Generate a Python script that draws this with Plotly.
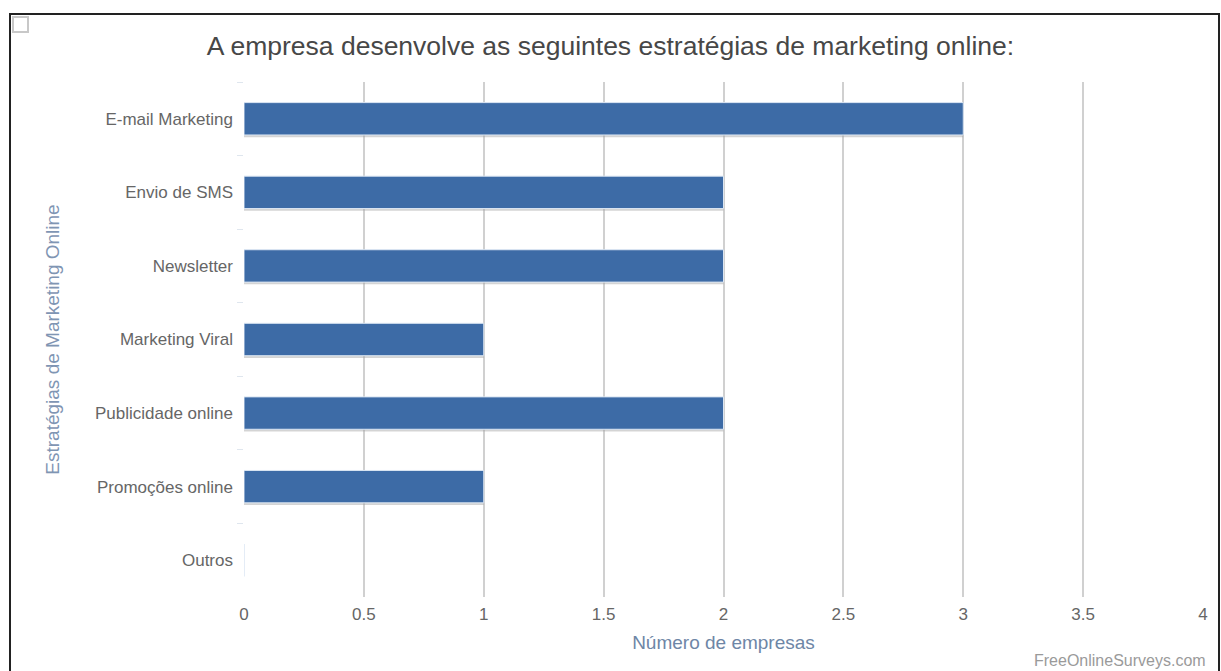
import plotly.graph_objects as go

# Survey answers: number of companies using each online marketing strategy
estrategias = [
    "E-mail Marketing",
    "Envio de SMS",
    "Newsletter",
    "Marketing Viral",
    "Publicidade online",
    "Promoções online",
    "Outros",
]
num_empresas = [3, 2, 2, 1, 2, 1, 0]
x_ticks = [0, 0.5, 1, 1.5, 2, 2.5, 3, 3.5, 4]
x_tick_labels = ["0", "0.5", "1", "1.5", "2", "2.5", "3", "3.5", "4"]

W, H = 1221, 671
ML, MR, MT, MB = 244, 18, 82, 74
pw, ph = W - ML - MR, H - MT - MB


def px_x(p):
    return (p - ML) / pw


def px_y(p):
    return 1 - (p - MT) / ph


fig = go.Figure()

# soft drop shadow behind each bar
fig.add_trace(go.Bar(
    y=estrategias,
    x=num_empresas,
    orientation="h",
    width=0.46,
    offset=-0.21,
    marker=dict(color="rgba(160,160,160,0.45)", line=dict(width=0)),
    hoverinfo="skip",
    showlegend=False,
))

fig.add_trace(go.Bar(
    y=estrategias,
    x=num_empresas,
    orientation="h",
    width=0.44,
    offset=-0.22,
    marker=dict(color="#3d6ba6", line=dict(color="#dbe6f3", width=1)),
    showlegend=False,
))

fig.update_layout(
    width=W,
    height=H,
    margin=dict(l=ML, r=MR, t=MT, b=MB),
    paper_bgcolor="white",
    plot_bgcolor="white",
    barmode="overlay",
    font=dict(family="Liberation Sans, Arial, sans-serif", color="#666666", size=17),
    title=dict(
        text="A empresa desenvolve as seguintes estratégias de marketing online:",
        x=0.5,
        xref="container",
        y=1 - 46 / H,
        yanchor="middle",
        font=dict(size=26.5, color="#474747"),
    ),
    xaxis=dict(
        range=[0, 4],
        tickvals=x_ticks,
        ticktext=x_tick_labels,
        showgrid=True,
        gridcolor="#d0d0d0",
        gridwidth=1.5,
        zeroline=False,
        showline=False,
        ticks="",
        ticklabelstandoff=5,
        tickfont=dict(size=17, color="#666666"),
        title=dict(text="Número de empresas", font=dict(size=19, color="#6e86a6"), standoff=12),
    ),
    yaxis=dict(
        categoryorder="array",
        categoryarray=estrategias,
        autorange="reversed",
        showgrid=False,
        zeroline=False,
        showline=False,
        ticks="outside",
        tickson="boundaries",
        ticklen=6,
        tickcolor="#dfe6ee",
        tickwidth=1,
        ticklabelstandoff=10,
        tickfont=dict(size=17, color="#666666"),
        title=dict(text="Estratégias de Marketing Online", font=dict(size=19, color="#7f95b3"), standoff=30),
    ),
)

# frame around the whole chart area
fig.add_shape(
    type="rect", xref="paper", yref="paper",
    x0=px_x(10), x1=px_x(1219), y0=px_y(680), y1=px_y(14),
    line=dict(color="#222222", width=2), fillcolor="rgba(0,0,0,0)", layer="above",
)

# small export icon in the top-left corner
fig.add_shape(
    type="rect", xref="paper", yref="paper",
    x0=px_x(13), x1=px_x(28), y0=px_y(32), y1=px_y(17),
    line=dict(color="#c8c8c8", width=2), fillcolor="white",
)

fig.add_annotation(
    text="FreeOnlineSurveys.com",
    xref="paper", yref="paper",
    x=px_x(1208), y=px_y(660),
    xanchor="right", yanchor="middle",
    showarrow=False,
    font=dict(size=16, color="#9a9a9a"),
)

fig.write_html("out.html")
